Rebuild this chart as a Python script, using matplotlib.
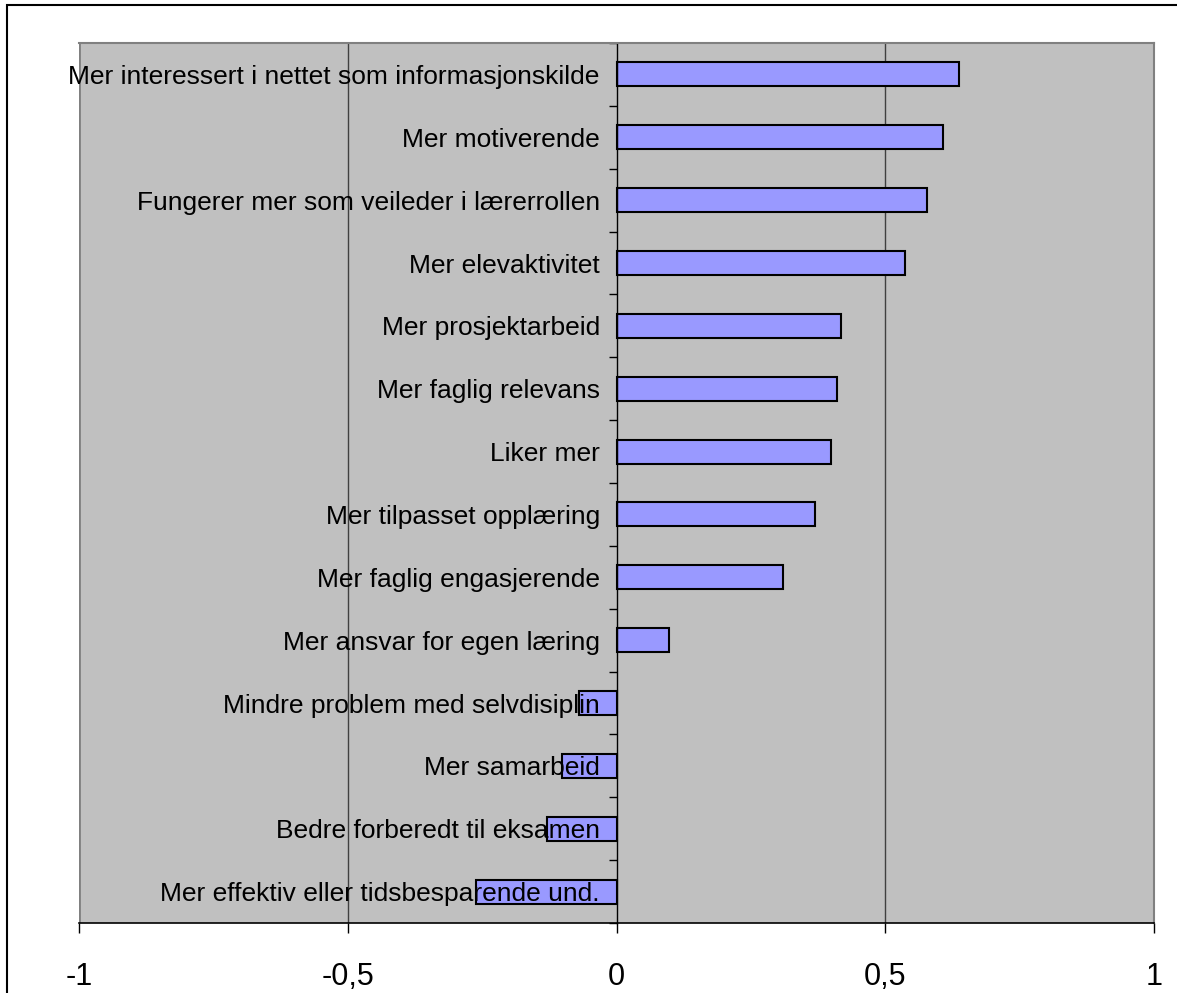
import matplotlib.pyplot as plt
from matplotlib.patches import Rectangle
from matplotlib.ticker import FuncFormatter
import numpy as np

plt.rcParams['font.family'] = ['Liberation Sans', 'DejaVu Sans']

categories = [
    'Mer interessert i nettet som informasjonskilde',
    'Mer motiverende',
    'Fungerer mer som veileder i lærerrollen',
    'Mer elevaktivitet',
    'Mer prosjektarbeid',
    'Mer faglig relevans',
    'Liker mer',
    'Mer tilpasset opplæring',
    'Mer faglig engasjerende',
    'Mer ansvar for egen læring',
    'Mindre problem med selvdisiplin',
    'Mer samarbeid',
    'Bedre forberedt til eksamen',
    'Mer effektiv eller tidsbesparende und.',
]
values = [0.638, 0.608, 0.578, 0.537, 0.418, 0.410, 0.399,
          0.369, 0.310, 0.097, -0.069, -0.101, -0.129, -0.261]
xticks = [-1, -0.5, 0, 0.5, 1]

fig = plt.figure(figsize=(11.77, 9.93), dpi=100)
ax = fig.add_axes([79 / 1177, 1 - 923 / 993, (1154 - 79) / 1177, (923 - 43) / 993])
ax.set_facecolor('#C0C0C0')

y = np.arange(len(categories))
ax.barh(y, values, height=0.38, color='#9999FF', edgecolor='black', linewidth=1.5, zorder=1)

ax.set_xlim(-1, 1)
ax.set_ylim(len(categories) - 0.5, -0.5)

# vertical gridlines
for v in [-0.5, 0.5]:
    ax.axvline(v, color='#404040', linewidth=1, zorder=0.5)
# left border of the plot area (the real left spine sits at zero)
ax.axvline(-1, color='#808080', linewidth=2, zorder=0.5)

# category axis at zero
ax.spines['left'].set_position(('data', 0))
ax.spines['left'].set_color('black')
ax.spines['left'].set_linewidth(1)
for s in ['top', 'right']:
    ax.spines[s].set_color('#808080')
    ax.spines[s].set_linewidth(1.5)
ax.spines['bottom'].set_color('black')
ax.spines['bottom'].set_linewidth(1.2)

ax.set_yticks(np.arange(len(categories) + 1) - 0.5)
ax.set_yticklabels([])
ax.set_yticks(y, minor=True)
ax.set_yticklabels(categories, minor=True, fontsize=19)
ax.tick_params(axis='y', which='major', length=6, width=1, direction='out')
ax.tick_params(axis='y', which='minor', length=0, pad=12)

ax.set_xticks(xticks)
ax.xaxis.set_major_formatter(FuncFormatter(lambda v, p: ('%g' % v).replace('.', ',')))
ax.tick_params(axis='x', length=7, width=1, direction='out', labelsize=22, pad=21)

# outer frame
fig.patches.append(Rectangle((7 / 1177, -0.1), 1.2, 1.1 - 5 / 993, transform=fig.transFigure,
                             fill=False, edgecolor='black', linewidth=1.5))

fig.savefig('out.png', dpi=100)
